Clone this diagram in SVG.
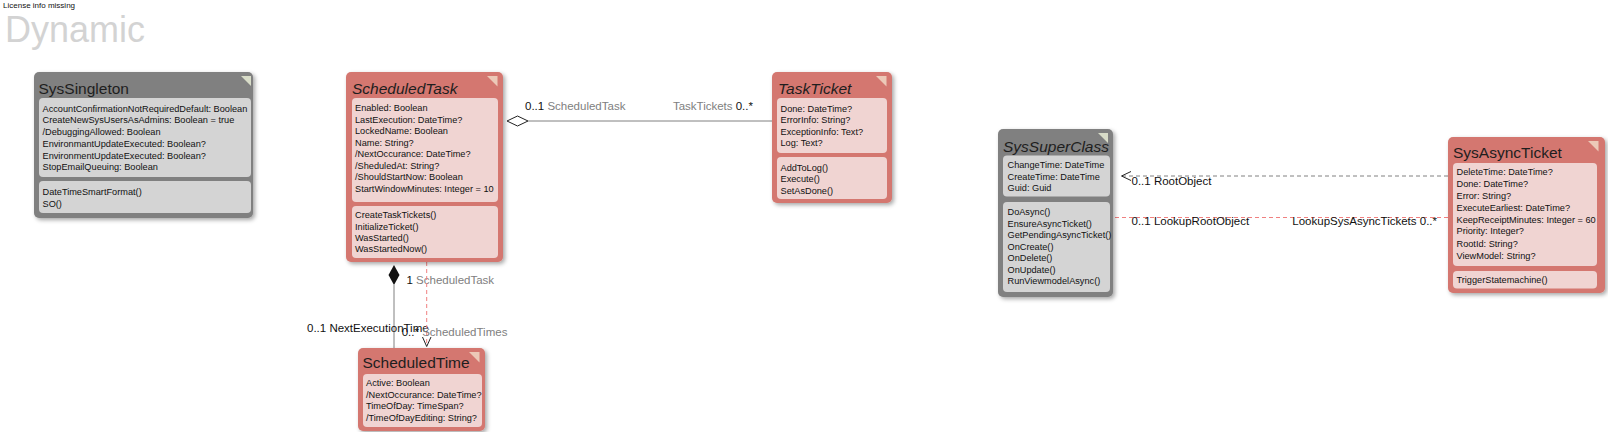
<svg xmlns="http://www.w3.org/2000/svg" width="1608" height="432" viewBox="0 0 1608 432">
<defs>
<filter id="sh" x="-10%" y="-10%" width="125%" height="125%">
<feDropShadow dx="2" dy="2" stdDeviation="2" flood-color="#000" flood-opacity="0.35"/>
</filter>
<style>
text{font-family:"Liberation Sans",Arial,sans-serif;}
.gbox{fill:#808080;filter:url(#sh);}
.rbox{fill:#d4776f;filter:url(#sh);}
.gcomp{fill:#d4d4d4;}
.rcomp{fill:#f0d4d2;}
.gtri{fill:#d8dcc8;}
.rtri{fill:#ecc9b8;}
.title{font-size:15.5px;fill:#1e1e1e;}
.it{font-style:italic;}
.mem{font-size:9.2px;fill:#111;}
.lbl{font-size:11.5px;fill:#111;}
.gl{fill:#808080;}
.line{stroke:#808080;stroke-width:1;fill:none;}
.dg{stroke:#808080;stroke-width:1;fill:none;stroke-dasharray:4 3;}
.dr{stroke:#f08080;stroke-width:1;fill:none;stroke-dasharray:4 3;}
.arr{stroke:#222;stroke-width:1;fill:none;}
</style>
</defs>
<rect width="1608" height="432" fill="#fff"/>
<text x="3" y="8" style="font-size:8px;fill:#111">License info missing</text>
<text x="5" y="42" style="font-size:36px;fill:#d3d3d3">Dynamic</text>

<g id="connectors">
<line class="line" x1="528" y1="121" x2="772" y2="121"/>
<polygon points="507,121 517.5,116 528,121 517.5,126" fill="#fff" stroke="#222" stroke-width="1"/>
<text class="lbl" x="525" y="110">0..1 <tspan class="gl">ScheduledTask</tspan></text>
<text class="lbl" x="753" y="110" text-anchor="end"><tspan class="gl">TaskTickets</tspan> 0..*</text>

<line class="line" x1="394" y1="285" x2="394" y2="348"/>
<polygon points="394,265 399.5,275 394,285 388.5,275" fill="#111"/>
<text class="lbl" x="406.5" y="284">1 <tspan class="gl">ScheduledTask</tspan></text>
<text class="lbl" x="307" y="332">0..1 NextExecutionTime</text>

<line class="dr" x1="426.7" y1="262" x2="426.7" y2="346"/>
<polyline class="arr" points="422.5,337 426.7,346.5 431,337"/>
<text class="lbl" x="401.7" y="336">0..* <tspan class="gl">ScheduledTimes</tspan></text>

<line class="dg" x1="1122" y1="176" x2="1448" y2="176"/>
<polyline class="arr" points="1131,171.5 1121.5,176 1131,180.5"/>
<text class="lbl" x="1131.5" y="184.5">0..1 RootObject</text>

<line class="dr" x1="1115" y1="217.5" x2="1448" y2="217.5"/>
<text class="lbl" x="1131.5" y="224.5">0..1 LookupRootObject</text>
<text class="lbl" x="1437" y="224.5" text-anchor="end">LookupSysAsyncTickets 0..*</text>
</g>

<g id="SysSingleton">
<rect class="gbox" x="34" y="72" width="219" height="146" rx="5"/>
<polygon class="gtri" points="241,76 251,76 251,86"/>
<text class="title" x="38.5" y="94">SysSingleton</text>
<rect class="gcomp" x="39" y="98" width="212" height="79" rx="4"/>
<text class="mem" x="42.5" y="111.7">AccountConfirmationNotRequiredDefault: Boolean</text>
<text class="mem" x="42.5" y="123.4">CreateNewSysUsersAsAdmins: Boolean = true</text>
<text class="mem" x="42.5" y="135.1">/DebuggingAllowed: Boolean</text>
<text class="mem" x="42.5" y="146.8">EnvironmantUpdateExecuted: Boolean?</text>
<text class="mem" x="42.5" y="158.5">EnvironmentUpdateExecuted: Boolean?</text>
<text class="mem" x="42.5" y="170.2">StopEmailQueuing: Boolean</text>
<rect class="gcomp" x="39" y="181" width="212" height="32" rx="4"/>
<text class="mem" x="42.5" y="195">DateTimeSmartFormat()</text>
<text class="mem" x="42.5" y="206.7">SO()</text>
</g>

<g id="ScheduledTask">
<rect class="rbox" x="346" y="72" width="157" height="190" rx="5"/>
<polygon class="rtri" points="487,76 497.5,76 497.5,86.5"/>
<text class="title it" x="352" y="94">ScheduledTask</text>
<rect class="rcomp" x="352" y="98" width="146" height="104" rx="4"/>
<text class="mem" x="355" y="111">Enabled: Boolean</text>
<text class="mem" x="355" y="122.5">LastExecution: DateTime?</text>
<text class="mem" x="355" y="134">LockedName: Boolean</text>
<text class="mem" x="355" y="145.5">Name: String?</text>
<text class="mem" x="355" y="157">/NextOccurance: DateTime?</text>
<text class="mem" x="355" y="168.5">/SheduledAt: String?</text>
<text class="mem" x="355" y="180">/ShouldStartNow: Boolean</text>
<text class="mem" x="355" y="191.5">StartWindowMinutes: Integer = 10</text>
<rect class="rcomp" x="352" y="206" width="146" height="52" rx="4"/>
<text class="mem" x="355" y="218.3">CreateTaskTickets()</text>
<text class="mem" x="355" y="229.7">InitializeTicket()</text>
<text class="mem" x="355" y="241">WasStarted()</text>
<text class="mem" x="355" y="252.3">WasStartedNow()</text>
</g>

<g id="TaskTicket">
<rect class="rbox" x="772" y="72" width="120" height="131" rx="5"/>
<polygon class="rtri" points="876,76 886.5,76 886.5,86.5"/>
<text class="title it" x="778" y="94">TaskTicket</text>
<rect class="rcomp" x="777" y="98" width="110" height="55" rx="4"/>
<text class="mem" x="780.5" y="111.5">Done: DateTime?</text>
<text class="mem" x="780.5" y="123">ErrorInfo: String?</text>
<text class="mem" x="780.5" y="134.5">ExceptionInfo: Text?</text>
<text class="mem" x="780.5" y="146">Log: Text?</text>
<rect class="rcomp" x="777" y="157" width="110" height="42" rx="4"/>
<text class="mem" x="780.5" y="170.5">AddToLog()</text>
<text class="mem" x="780.5" y="182">Execute()</text>
<text class="mem" x="780.5" y="193.5">SetAsDone()</text>
</g>

<g id="ScheduledTime">
<rect class="rbox" x="358" y="348" width="127" height="83" rx="5"/>
<polygon class="rtri" points="469,352 479.5,352 479.5,362.5"/>
<text class="title" x="362.5" y="368">ScheduledTime</text>
<rect class="rcomp" x="363" y="374" width="119" height="53" rx="4"/>
<text class="mem" x="366" y="386">Active: Boolean</text>
<text class="mem" x="366" y="397.7">/NextOccurance: DateTime?</text>
<text class="mem" x="366" y="409.3">TimeOfDay: TimeSpan?</text>
<text class="mem" x="366" y="421">/TimeOfDayEditing: String?</text>
</g>

<g id="SysSuperClass">
<rect class="gbox" x="998" y="129" width="115" height="168" rx="5"/>
<polygon class="gtri" points="1098,133 1108,133 1108,143"/>
<text class="title it" x="1003" y="151.5">SysSuperClass</text>
<rect class="gcomp" x="1003" y="155.5" width="107" height="41" rx="4"/>
<text class="mem" x="1007.5" y="168.3">ChangeTime: DateTime</text>
<text class="mem" x="1007.5" y="179.7">CreateTime: DateTime</text>
<text class="mem" x="1007.5" y="191">Guid: Guid</text>
<rect class="gcomp" x="1003" y="202" width="107" height="90" rx="4"/>
<text class="mem" x="1007.5" y="215">DoAsync()</text>
<text class="mem" x="1007.5" y="226.5">EnsureAsyncTicket()</text>
<text class="mem" x="1007.5" y="238">GetPendingAsyncTicket()</text>
<text class="mem" x="1007.5" y="249.5">OnCreate()</text>
<text class="mem" x="1007.5" y="261">OnDelete()</text>
<text class="mem" x="1007.5" y="272.5">OnUpdate()</text>
<text class="mem" x="1007.5" y="284">RunViewmodelAsync()</text>
</g>

<g id="SysAsyncTicket">
<rect class="rbox" x="1448" y="137" width="157" height="156" rx="5"/>
<polygon class="rtri" points="1588,141 1598.5,141 1598.5,151.5"/>
<text class="title" x="1453" y="158">SysAsyncTicket</text>
<rect class="rcomp" x="1453" y="163" width="144" height="103" rx="4"/>
<text class="mem" x="1456.5" y="175">DeleteTime: DateTime?</text>
<text class="mem" x="1456.5" y="186.8">Done: DateTime?</text>
<text class="mem" x="1456.5" y="198.6">Error: String?</text>
<text class="mem" x="1456.5" y="210.6">ExecuteEarliest: DateTime?</text>
<text class="mem" x="1456.5" y="222.5">KeepReceiptMinutes: Integer = 60</text>
<text class="mem" x="1456.5" y="234.3">Priority: Integer?</text>
<text class="mem" x="1456.5" y="246.5">RootId: String?</text>
<text class="mem" x="1456.5" y="258.5">ViewModel: String?</text>
<rect class="rcomp" x="1453" y="271" width="144" height="17.5" rx="4"/>
<text class="mem" x="1456.5" y="283.3">TriggerStatemachine()</text>
</g>
</svg>
